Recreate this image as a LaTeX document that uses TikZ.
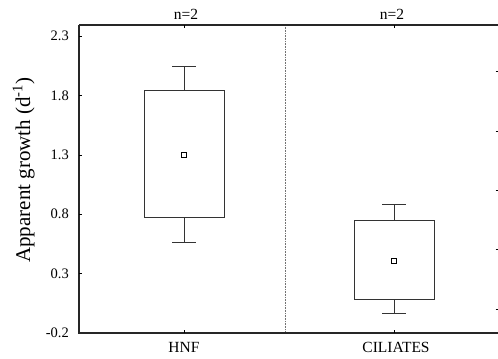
\documentclass[tikz,border=0pt]{standalone}
\usepackage{fontspec}
\setmainfont{Liberation Serif}
\begin{document}
\begin{tikzpicture}[x=1pt,y=118.8pt,
  axisline/.style={line width=1.6pt,black!85},
  boxline/.style={line width=0.8pt,black!80},
  ticklab/.style={font=\fontsize{14.5}{15}\selectfont,anchor=east,inner sep=0pt},
  catlab/.style={font=\fontsize{15.5}{16}\selectfont,anchor=base,inner sep=0pt},
  meanmark/.style={draw,line width=0.6pt,minimum size=5pt,inner sep=0pt}]
\useasboundingbox (0,-0.4104) rectangle (498,2.6031);

\draw[axisline] (79,2.3926) -- (498,2.3926);
\draw[axisline] (79,2.3926) -- (79,-0.2) -- (498,-0.2);
\draw[densely dotted,line width=0.6pt,black!55] (285,2.38) -- (285,-0.19);

\node[ticklab] (t23) at (69,2.3) {2.3};
\node[ticklab] (t18) at (69,1.8) {1.8};
\node[ticklab] (t13) at (69,1.3) {1.3};
\node[ticklab] (t08) at (69,0.8) {0.8};
\node[ticklab] (t03) at (69,0.3) {0.3};
\node[ticklab] (tm02) at (69,-0.2) {-0.2};
\foreach \v in {2.3,1.8,1.3,0.8,0.3}
  \draw[line width=0.5pt] (79,\v) -- (81.5,\v);
\foreach \v in {2.0,1.5,1.0,0.5,0.0}
  \draw[line width=0.8pt] (495.5,\v) -- (498,\v);
\foreach \x in {184,394}{
  \draw[line width=0.5pt] (\x,2.3926) -- (\x,2.37);
  \draw[line width=0.5pt] (\x,-0.2) -- (\x,-0.178);
}

% HNF
\draw[boxline] (144,0.77) rectangle (224,1.845);
\draw[boxline] (184,1.845) -- (184,2.047);
\draw[boxline] (172,2.047) -- (196,2.047);
\draw[boxline] (184,0.77) -- (184,0.565);
\draw[boxline] (172,0.565) -- (196,0.565);
\node[meanmark] (mhnf) at (184,1.3) {};

% CILIATES
\draw[boxline] (354,0.084) rectangle (434,0.75);
\draw[boxline] (394,0.75) -- (394,0.884);
\draw[boxline] (382,0.884) -- (406,0.884);
\draw[boxline] (394,0.084) -- (394,-0.037);
\draw[boxline] (382,-0.037) -- (406,-0.037);
\node[meanmark] (mcil) at (394,0.41) {};

\node[catlab] (nhnf) at (186,2.4406) {n=2};
\node[catlab] (ncil) at (392,2.4406) {n=2};
\node[catlab] (lhnf) at (184,-0.3599) {HNF};
\node[catlab] (lcil) at (396,-0.3599) {CILIATES};
\node[font=\fontsize{21}{22}\selectfont,rotate=90,anchor=base,inner sep=0pt] (ylab)
  at (30,1.172) {Apparent growth (d\textsuperscript{-1})};
\end{tikzpicture}
\end{document}
